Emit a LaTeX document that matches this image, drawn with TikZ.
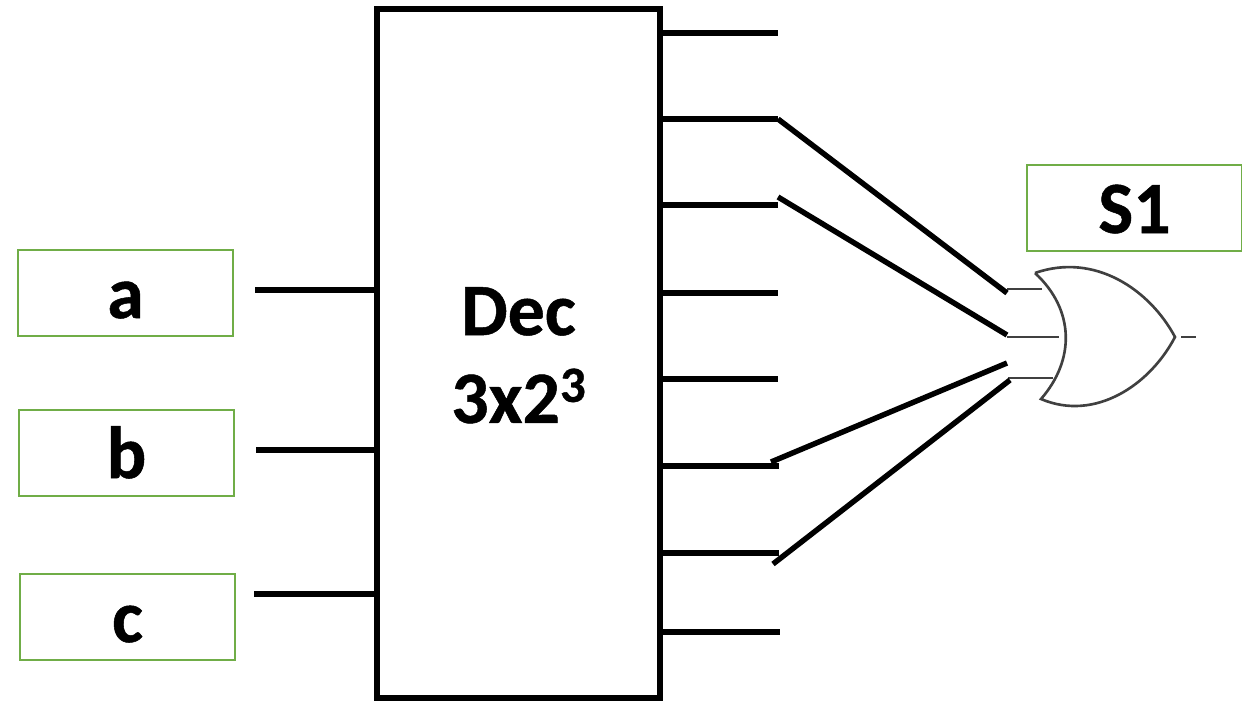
\documentclass[tikz,border=0pt]{standalone}
\usepackage{fontspec}
\setmainfont{Carlito}[BoldFeatures={FakeBold=0.7}]
\definecolor{boxgreen}{HTML}{70AD47}
\definecolor{gategray}{HTML}{404040}
\tikzset{
  wire/.style={line width=3.1pt,black},
  gateline/.style={line width=1.5pt,gategray},
  varbox/.style={draw=boxgreen,line width=1.6pt,inner sep=0pt,anchor=base,align=center,
    text width=4.3cm,text height=1.36cm,text depth=0.36cm,font=\fontsize{42}{50}\selectfont\bfseries},
  decbox/.style={draw=black,line width=3.3pt,inner sep=0pt,minimum width=5.66cm,minimum height=13.78cm,
    align=center,font=\fontsize{42}{50}\selectfont\bfseries}
}
\begin{document}
\begin{tikzpicture}[x=0.02cm,y=-0.02cm]
     \useasboundingbox (0,0) rectangle (1242,701);

     \node[decbox] (dec) at (518.5,353.5) {\rule{0pt}{1.03cm}Dec\\3x2\raisebox{0.42cm}{\fontsize{29}{29}\selectfont 3}};

     \node[varbox] (a) at (125.5,318) {a};
     \node[varbox] (b) at (126.5,478) {b};
     \node[varbox] (c) at (127.5,642) {c};
     \node[varbox] (s1) at (1134.5,233) {S1};

     \coordinate (ina) at (255,290);
     \coordinate (inb) at (256,450);
     \coordinate (inc) at (254,594);
     \draw[wire] (ina) -- (ina -| dec.west);
     \draw[wire] (inb) -- (inb -| dec.west);
     \draw[wire] (inc) -- (inc -| dec.west);

     \coordinate (out0) at (778,33);
     \coordinate (out1) at (778,119);
     \coordinate (out2) at (778,205);
     \coordinate (out3) at (778,293);
     \coordinate (out4) at (778,379);
     \coordinate (out5) at (779,466);
     \coordinate (out6) at (779,553);
     \coordinate (out7) at (780,632);
     \draw[wire] (dec.east |- out0) -- (out0);
     \draw[wire] (dec.east |- out1) -- (out1);
     \draw[wire] (dec.east |- out2) -- (out2);
     \draw[wire] (dec.east |- out3) -- (out3);
     \draw[wire] (dec.east |- out4) -- (out4);
     \draw[wire] (dec.east |- out5) -- (out5);
     \draw[wire] (dec.east |- out6) -- (out6);
     \draw[wire] (dec.east |- out7) -- (out7);

     % gate
     \coordinate (tip) at (1175,337);
     \coordinate (top) at (1035,273);
     \coordinate (bot) at (1041,399);
     \draw[gateline,fill=white] (top) .. controls (1095,252) and (1150,290) .. (tip)
        .. controls (1150,385) and (1095,422) .. (bot)
        .. controls (1075,360) and (1075,310) .. (top);
     \coordinate (g1) at (1007,289);
     \coordinate (g2) at (1007,337);
     \coordinate (g3) at (1008,378);
     \draw[gateline] (g1) -- (1042,289);
     \draw[gateline] (g2) -- (1059,337);
     \draw[gateline] (g3) -- (1053,378);
     \draw[gateline] (1181,337) -- (1196,337);

     \coordinate (d2) at (778,197);
     \coordinate (d5) at (771,462);
     \coordinate (d6) at (773,564);
     \coordinate (g3up) at (1007,363);
     \coordinate (g1up) at (1007,293);
     \coordinate (g2up) at (1007,335);
     \coordinate (g4up) at (1010,380);
     \draw[wire] (out1) -- (g1up);
     \draw[wire] (d2) -- (g2up);
     \draw[wire] (d5) -- (g3up);
     \draw[wire] (d6) -- (g4up);
\end{tikzpicture}
\end{document}
